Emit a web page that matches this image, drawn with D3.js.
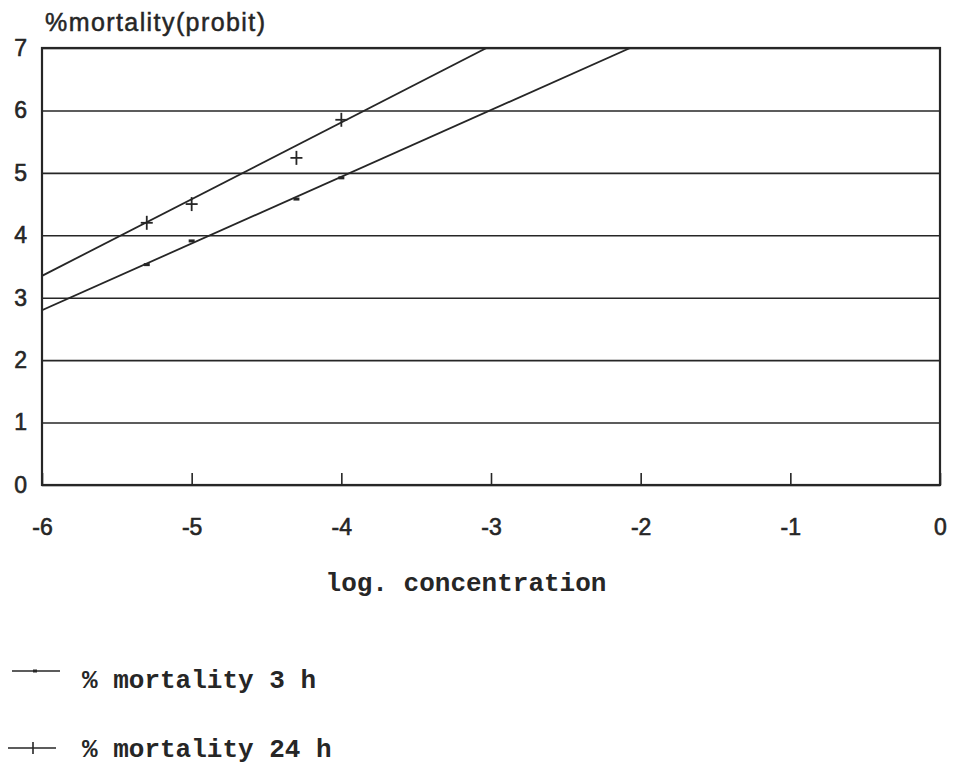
<!DOCTYPE html>
<html>
<head>
<meta charset="utf-8">
<script src="https://cdn.jsdelivr.net/npm/d3@7"></script>
<style>
  body { margin:0; background:#fff; }
  svg { display:block; }
</style>
</head>
<body>
<div id="chart"></div>
<script>
// data
var xTicks = [-6, -5, -4, -3, -2, -1, 0];
var yTicks = [0, 1, 2, 3, 4, 5, 6, 7];

var logConc = [-5.3, -5.0, -4.3, -4.0];
var probit3h = [3.53, 3.91, 4.58, 4.92];
var probit24h = [4.2, 4.5, 5.24, 5.85];

// fitted lines, given as end points
var fit3h = [[-6, 2.8], [-2.07, 7]];
var fit24h = [[-6, 3.35], [-3.03, 7]];

var seriesNames = ["% mortality 3 h", "% mortality 24 h"];

var margin = { left:42, right:14, top:48, bottom:287 };
var W = 954, H = 772;
var wid = W - margin.left - margin.right;
var hei = H - margin.top - margin.bottom;
var ink = "#262626";

var svg = d3.select("#chart").append("svg")
    .attr("width", W)
    .attr("height", H);

svg.append("rect").attr("width", W).attr("height", H).attr("fill", "#fff");

var g = svg.append("g")
    .attr("transform", "translate(" + margin.left + "," + margin.top + ")");

var x = d3.scaleLinear().domain([-6, 0]).range([0, wid]);
var y = d3.scaleLinear().domain([0, 7]).range([hei, 0]);

g.append("clipPath").attr("id", "plot-area")
  .append("rect").attr("width", wid).attr("height", hei);

var plain = function(d) { return String(d); };

// y axis with full-width gridlines
var yAxisG = g.append("g")
    .attr("class", "y axis")
    .call(d3.axisLeft(y).tickValues(yTicks).tickSize(-wid).tickPadding(15).tickSizeOuter(0)
        .tickFormat(plain));
yAxisG.select(".domain").remove();
yAxisG.selectAll("line").attr("stroke", ink).attr("stroke-width", 1.6);
yAxisG.selectAll("text")
    .attr("fill", ink)
    .attr("stroke", ink).attr("stroke-width", 0.6)
    .attr("font-family", "Liberation Sans, Arial, sans-serif")
    .attr("font-size", 23);

// x axis, ticks pointing inward
var xAxisG = g.append("g")
    .attr("class", "x axis")
    .attr("transform", "translate(0," + hei + ")")
    .call(d3.axisBottom(x).tickValues(xTicks).tickSize(-12).tickPadding(34).tickSizeOuter(0)
        .tickFormat(plain));
xAxisG.select(".domain").remove();
xAxisG.selectAll("line").attr("stroke", ink).attr("stroke-width", 1.6);
xAxisG.selectAll("text")
    .attr("fill", ink)
    .attr("stroke", ink).attr("stroke-width", 0.6)
    .attr("font-family", "Liberation Sans, Arial, sans-serif")
    .attr("font-size", 23);

// frame
g.append("rect")
    .attr("width", wid)
    .attr("height", hei)
    .attr("fill", "none")
    .attr("stroke", ink)
    .attr("stroke-width", 2.2);

var line = d3.line()
    .x(function(d) { return x(d[0]); })
    .y(function(d) { return y(d[1]); });

var plot = g.append("g").attr("clip-path", "url(#plot-area)");

plot.append("path").datum(fit3h)
    .attr("d", line).attr("fill", "none")
    .attr("stroke", ink).attr("stroke-width", 1.8);

plot.append("path").datum(fit24h)
    .attr("d", line).attr("fill", "none")
    .attr("stroke", ink).attr("stroke-width", 1.8);

// 3 h markers: short dashes
plot.selectAll(".m3").data(logConc).enter()
    .append("line")
    .attr("class", "m3")
    .attr("x1", function(d) { return x(d) - 3; })
    .attr("x2", function(d) { return x(d) + 3; })
    .attr("y1", function(d, i) { return y(probit3h[i]); })
    .attr("y2", function(d, i) { return y(probit3h[i]); })
    .attr("stroke", ink).attr("stroke-width", 3);

// 24 h markers: plus signs
var m24 = plot.selectAll(".m24").data(logConc).enter()
    .append("g")
    .attr("class", "m24")
    .attr("transform", function(d, i) {
        return "translate(" + x(d) + "," + y(probit24h[i]) + ")";
    });
m24.append("line").attr("x1", -6).attr("x2", 6)
    .attr("stroke", ink).attr("stroke-width", 1.8);
m24.append("line").attr("y1", -7).attr("y2", 7)
    .attr("stroke", ink).attr("stroke-width", 1.8);

// y title
svg.append("text")
    .attr("x", 45)
    .attr("y", 31)
    .attr("fill", ink)
    .attr("stroke", ink).attr("stroke-width", 0.5)
    .attr("font-family", "Liberation Sans, Arial, sans-serif")
    .attr("font-size", 25)
    .attr("textLength", 220)
    .text("%mortality(probit)");

// x title
svg.append("text")
    .attr("x", 466)
    .attr("y", 591)
    .attr("text-anchor", "middle")
    .attr("fill", ink)
    .attr("font-family", "Liberation Mono, Courier New, monospace")
    .attr("font-weight", "bold")
    .attr("font-size", 26)
    .text("log. concentration");

// legend
var legend = svg.append("g").attr("class", "legend");

legend.append("line")
    .attr("x1", 12).attr("x2", 60).attr("y1", 671).attr("y2", 671)
    .attr("stroke", ink).attr("stroke-width", 1.6);
legend.append("line")
    .attr("x1", 33).attr("x2", 37).attr("y1", 671).attr("y2", 671)
    .attr("stroke", ink).attr("stroke-width", 3);
legend.append("text")
    .attr("x", 82).attr("y", 688)
    .attr("fill", ink)
    .attr("font-family", "Liberation Mono, Courier New, monospace")
    .attr("font-weight", "bold")
    .attr("font-size", 26)
    .text(seriesNames[0]);

legend.append("line")
    .attr("x1", 8).attr("x2", 56).attr("y1", 748).attr("y2", 748)
    .attr("stroke", ink).attr("stroke-width", 1.6);
legend.append("line")
    .attr("x1", 33).attr("x2", 33).attr("y1", 742).attr("y2", 754)
    .attr("stroke", ink).attr("stroke-width", 1.6);
legend.append("text")
    .attr("x", 82).attr("y", 757)
    .attr("fill", ink)
    .attr("font-family", "Liberation Mono, Courier New, monospace")
    .attr("font-weight", "bold")
    .attr("font-size", 26)
    .text(seriesNames[1]);
</script>
</body>
</html>
